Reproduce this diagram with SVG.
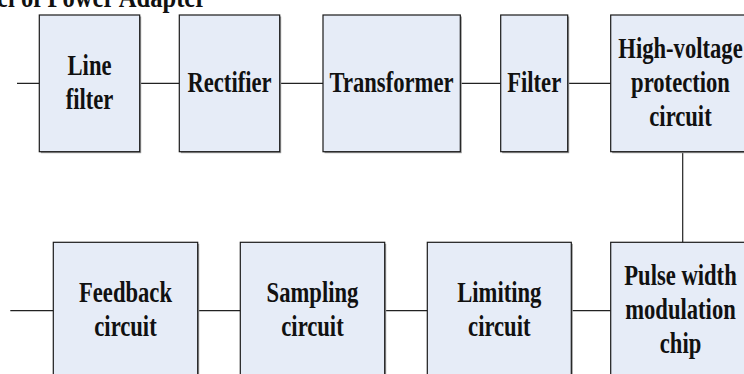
<svg xmlns="http://www.w3.org/2000/svg" width="744" height="374" viewBox="0 0 744 374">
<style>
  .box { fill: #E6ECF7; stroke: #1a1a1a; stroke-width: 1.2; }
  .sh { fill: #9a9a9a; }
  .lbl { font-family: "Liberation Serif", "Times New Roman", serif; font-weight: bold; font-size: 29px; fill: #111; text-anchor: middle; }
  .title { font-family: "Liberation Serif", "Times New Roman", serif; font-weight: bold; font-size: 30px; fill: #111; }
  .wire { stroke: #222; stroke-width: 1.2; fill: none; }
</style>
<rect width="744" height="374" fill="#ffffff"/>
<text class="title" transform="translate(-3,7) scale(0.82,1)" x="0" y="0">el of Power Adapter</text>

<g id="connectors">
  <path class="wire" d="M17,83.3 H39.3 M139.7,83.3 H179.3 M279.7,83.3 H323 M460.3,83.3 H500.7 M567.7,83.3 H610.7"/>
  <path class="wire" d="M682.7,151.7 V242.3"/>
  <path class="wire" d="M10.3,310.7 H53.3 M197.7,310.7 H240.3 M384.7,310.7 H427.3 M571.3,310.7 H610.7"/>
</g>

<g id="line-filter">
  <rect class="sh" x="40.8" y="16.5" width="100.4" height="136.7"/>
  <rect class="box" x="39.3" y="15" width="100.4" height="136.7"/>
  <text class="lbl" transform="translate(89.5,0) scale(0.78,1)"><tspan x="0" y="75.5">Line</tspan><tspan x="0" y="109.5">filter</tspan></text>
</g>
<g id="rectifier">
  <rect class="sh" x="180.8" y="16.5" width="100.4" height="136.7"/>
  <rect class="box" x="179.3" y="15" width="100.4" height="136.7"/>
  <text class="lbl" transform="translate(229.5,0) scale(0.78,1)"><tspan x="0" y="91.7">Rectifier</tspan></text>
</g>
<g id="transformer">
  <rect class="sh" x="324.5" y="16.5" width="137.3" height="136.7"/>
  <rect class="box" x="323" y="15" width="137.3" height="136.7"/>
  <text class="lbl" transform="translate(391.5,0) scale(0.78,1)"><tspan x="0" y="91.7">Transformer</tspan></text>
</g>
<g id="filter">
  <rect class="sh" x="502.2" y="16.5" width="67" height="136.7"/>
  <rect class="box" x="500.7" y="15" width="67" height="136.7"/>
  <text class="lbl" transform="translate(534.2,0) scale(0.78,1)"><tspan x="0" y="91.7">Filter</tspan></text>
</g>
<g id="high-voltage-protection">
  <rect class="sh" x="612.2" y="16.5" width="139.6" height="136.7"/>
  <rect class="box" x="610.7" y="15" width="139.6" height="136.7"/>
  <text class="lbl" transform="translate(680.5,0) scale(0.78,1)"><tspan x="0" y="58">High-voltage</tspan><tspan x="0" y="92">protection</tspan><tspan x="0" y="126">circuit</tspan></text>
</g>

<g id="feedback">
  <rect class="sh" x="54.8" y="243.8" width="144.4" height="136.7"/>
  <rect class="box" x="53.3" y="242.3" width="144.4" height="136.7"/>
  <text class="lbl" transform="translate(125.5,0) scale(0.78,1)"><tspan x="0" y="302.5">Feedback</tspan><tspan x="0" y="336.5">circuit</tspan></text>
</g>
<g id="sampling">
  <rect class="sh" x="241.8" y="243.8" width="144.4" height="136.7"/>
  <rect class="box" x="240.3" y="242.3" width="144.4" height="136.7"/>
  <text class="lbl" transform="translate(312.5,0) scale(0.78,1)"><tspan x="0" y="302.5">Sampling</tspan><tspan x="0" y="336.5">circuit</tspan></text>
</g>
<g id="limiting">
  <rect class="sh" x="428.8" y="243.8" width="144" height="136.7"/>
  <rect class="box" x="427.3" y="242.3" width="144" height="136.7"/>
  <text class="lbl" transform="translate(499.3,0) scale(0.78,1)"><tspan x="0" y="302.5">Limiting</tspan><tspan x="0" y="336.5">circuit</tspan></text>
</g>
<g id="pwm-chip">
  <rect class="sh" x="612.2" y="243.8" width="139.6" height="136.7"/>
  <rect class="box" x="610.7" y="242.3" width="139.6" height="136.7"/>
  <text class="lbl" transform="translate(680.5,0) scale(0.78,1)"><tspan x="0" y="285">Pulse width</tspan><tspan x="0" y="319">modulation</tspan><tspan x="0" y="353">chip</tspan></text>
</g>
</svg>
